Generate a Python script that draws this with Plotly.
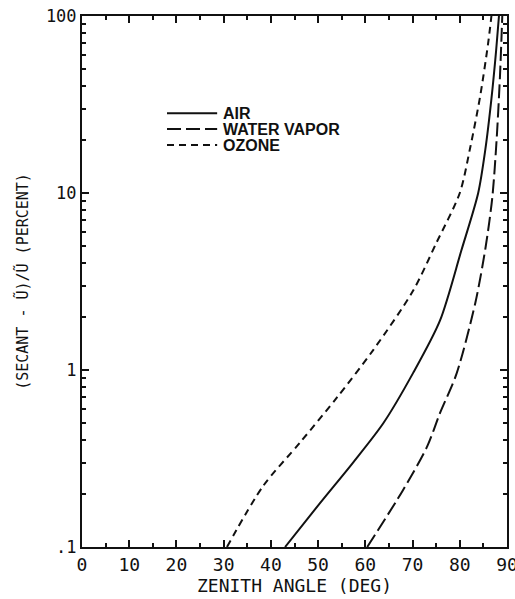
import plotly.graph_objects as go

# zenith angle (deg) / percent
air_angle = [43.0, 50.4, 57.4, 63.8, 70.1, 75.8, 80.3, 83.9, 85.4, 86.7, 87.7, 88.3]
air_pct = [0.1, 0.177, 0.30, 0.50, 0.96, 1.9, 4.7, 10, 17.5, 34, 64, 100]

vapor_angle = [60.4, 68.0, 73.1, 75.8, 79.3, 83.3, 85.5, 86.9, 87.8, 88.5, 89.0]
vapor_pct = [0.1, 0.21, 0.37, 0.57, 0.95, 2.4, 5.0, 9.5, 20, 45, 100]

ozone_angle = [30.7, 38.3, 46.2, 54.0, 61.7, 70.1, 75.0, 80.0, 82.2, 84.3, 86.0, 86.7]
ozone_pct = [0.1, 0.22, 0.39, 0.70, 1.30, 2.8, 5.2, 10, 18, 35, 70, 100]

series_names = ["AIR", "WATER VAPOR", "OZONE"]
series_dash = ["solid", "14px,5px", "7px,5px"]

x_ticks = [0, 10, 20, 30, 40, 50, 60, 70, 80, 90]
y_ticks = [0.1, 1, 10, 100]
y_tick_text = [".1", "1", "10", "100"]
y_minor = [m * d for d in (0.1, 1, 10) for m in range(2, 10)]

INK = "#111111"
MONO = "DejaVu Sans Mono, monospace"

fig = go.Figure()
for name, dash, xs, ys in zip(
    series_names,
    series_dash,
    [air_angle, vapor_angle, ozone_angle],
    [air_pct, vapor_pct, ozone_pct],
):
    fig.add_trace(
        go.Scatter(
            x=xs,
            y=ys,
            name=name,
            mode="lines",
            line=dict(color=INK, width=2, dash=dash, shape="spline", smoothing=0.8),
            showlegend=False,
        )
    )

# hand-drawn style key, tighter than plotly's legend allows
key_y = [0.817, 0.787, 0.757]
for name, dash, ky in zip(series_names, series_dash, key_y):
    fig.add_shape(
        type="line", xref="paper", yref="paper",
        x0=0.2, x1=0.318, y0=ky, y1=ky,
        line=dict(color=INK, width=2, dash=dash),
    )
    fig.add_annotation(
        xref="paper", yref="paper", x=0.326, y=ky,
        text=f"<b>{name}</b>", showarrow=False,
        xanchor="left", yanchor="middle",
        font=dict(family="Liberation Sans, Arial, sans-serif", size=16, color=INK),
    )

fig.update_layout(
    width=515,
    height=599,
    paper_bgcolor="white",
    plot_bgcolor="white",
    margin=dict(l=82, r=8, t=16, b=52),
    font=dict(family=MONO, color=INK),
    showlegend=False,
)
fig.update_xaxes(
    range=[0, 90],
    tickvals=x_ticks,
    ticks="inside",
    ticklen=7,
    tickwidth=2,
    tickcolor=INK,
    minor=dict(dtick=5, tick0=0, ticks="inside", ticklen=4, tickwidth=2, tickcolor=INK),
    showline=True,
    linecolor=INK,
    linewidth=2,
    mirror="ticks",
    showgrid=False,
    zeroline=False,
    automargin=False,
    ticklabeloverflow="allow",
    tickfont=dict(size=18),
    title=dict(text="ZENITH ANGLE (DEG)", font=dict(size=18), standoff=0),
)
fig.update_yaxes(
    type="log",
    range=[-1, 2],
    tickvals=y_ticks,
    ticktext=y_tick_text,
    ticks="inside",
    ticklen=7,
    tickwidth=2,
    tickcolor=INK,
    minor=dict(tickvals=y_minor, ticks="inside", ticklen=4, tickwidth=2, tickcolor=INK),
    showline=True,
    linecolor=INK,
    linewidth=2,
    mirror="ticks",
    showgrid=False,
    zeroline=False,
    automargin=False,
    ticklabeloverflow="allow",
    tickfont=dict(size=17),
    title=dict(text="(SECANT - Ũ)/Ũ (PERCENT)", font=dict(size=15), standoff=14),
)

# drop the browser's default 8px body margin so the figure fills the window
fig.write_html(
    "out.html",
    config={"displayModeBar": False},
    post_script="document.body.style.margin='0';",
)
